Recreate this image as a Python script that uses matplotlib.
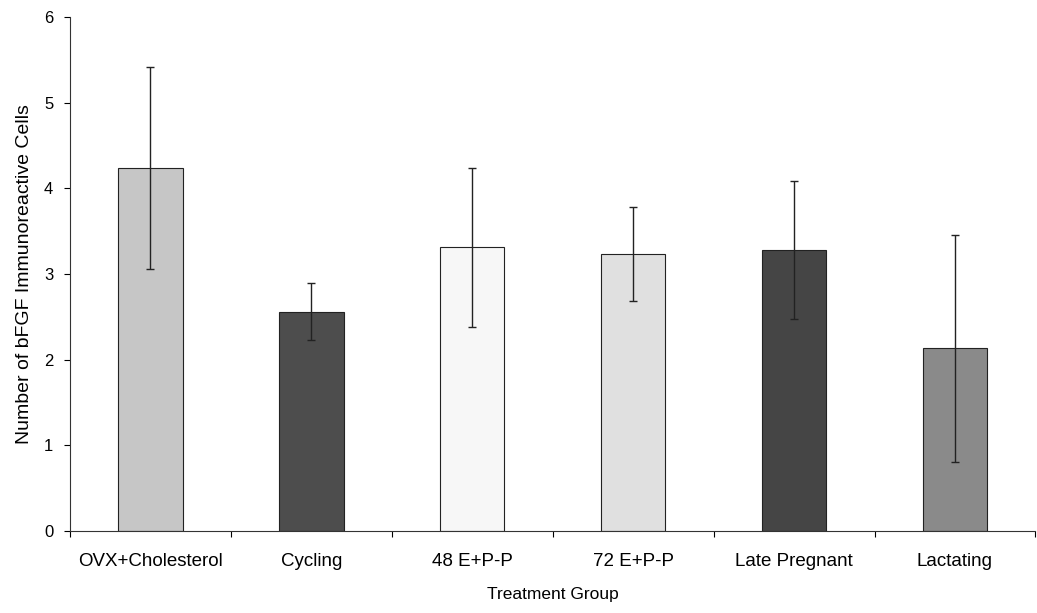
import numpy as np
import matplotlib
matplotlib.use('Agg')
import matplotlib.pyplot as plt
from matplotlib.ticker import FixedLocator

# data
groups = ['OVX+Cholesterol', 'Cycling', '48 E+P-P', '72 E+P-P', 'Late Pregnant', 'Lactating']
means = [4.24, 2.56, 3.31, 3.23, 3.28, 2.13]
errors = [1.18, 0.33, 0.93, 0.55, 0.81, 1.32]
colors = ['#c6c6c6', '#4d4d4d', '#f7f7f7', '#e0e0e0', '#454545', '#8a8a8a']

plt.rcParams['font.family'] = ['Liberation Sans', 'DejaVu Sans']

fig = plt.figure(figsize=(10.37, 6.13), dpi=100)
ax = fig.add_axes([0.0675, 0.134, 0.931, 0.838])

x = np.arange(len(groups))
ax.bar(x, means, width=0.40, color=colors, edgecolor='#222222', linewidth=0.8, zorder=2)
ax.errorbar(x, means, yerr=errors, fmt='none', ecolor='#222222',
            elinewidth=1.0, capsize=3, capthick=1.0, zorder=3)

ax.set_xlim(-0.5, len(groups) - 0.5)
ax.set_ylim(0, 6)
ax.set_yticks(range(0, 7))

ax.set_xticks(x)
ax.set_xticklabels(groups)
ax.xaxis.set_minor_locator(FixedLocator(np.arange(-0.5, len(groups), 1.0)))
ax.tick_params(axis='x', which='major', length=0, pad=16, labelsize=13.5)
ax.tick_params(axis='x', which='minor', length=4, width=0.8, direction='out')
ax.tick_params(axis='y', length=4, width=0.8, labelsize=12, pad=8)

for side in ['top', 'right']:
    ax.spines[side].set_visible(False)
for side in ['left', 'bottom']:
    ax.spines[side].set_linewidth(0.8)
    ax.spines[side].set_color('#333333')

ax.set_xlabel('Treatment Group', fontsize=12.5, labelpad=12)
ax.set_ylabel('Number of bFGF Immunoreactive Cells', fontsize=14, labelpad=8)

fig.savefig('out.png', dpi=100)
